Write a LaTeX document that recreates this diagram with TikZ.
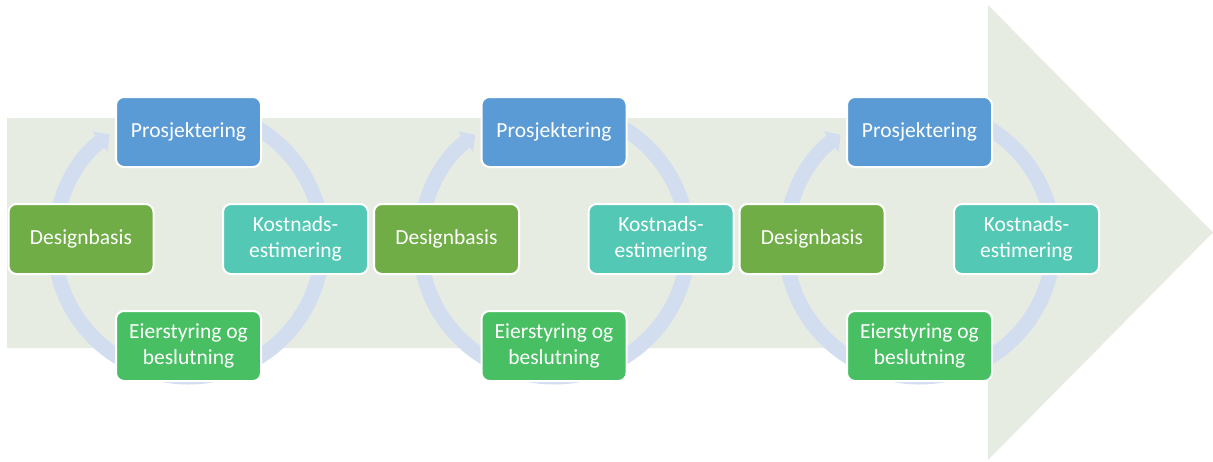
\documentclass[tikz,border=0pt]{standalone}
\usepackage{fontspec}
\setmainfont{Carlito}
\usetikzlibrary{arrows.meta}

\definecolor{bgarrow}{HTML}{E7ECE3}
\definecolor{ringblue}{HTML}{D3DDF0}
\definecolor{phblue}{HTML}{5B9BD5}
\definecolor{phteal}{HTML}{53C9B5}
\definecolor{pholive}{HTML}{70AD47}
\definecolor{phgreen}{HTML}{49BF63}

\begin{document}
\begin{tikzpicture}[x=1pt,y=-1pt,
  phase/.style={rounded corners=8pt, draw=white, line width=2pt,
    minimum width=145pt, minimum height=70pt, inner sep=0pt,
    text=white, align=center, font=\fontsize{21.5}{26}\selectfont},
  cyclering/.style={draw=ringblue, line width=15pt,
    -{Triangle[width=25pt,length=12pt]}}]
\useasboundingbox (0,0) rectangle (1213,461);

% large background arrow pointing right
\fill[bgarrow] (7,118) -- (988,118) -- (988,5) -- (1213,232.5)
  -- (988,460) -- (988,348) -- (7,348) -- cycle;

% three identical iteration cycles
\foreach \i/\ox in {1/0, 2/365.5, 3/731}{
  \begin{scope}[shift={(\ox,0)}]
    \draw[cyclering] (188.5,243) ++(-90:134)
      arc[start angle=-90, end angle=234, radius=134];
    \node[phase, fill=phblue]  (pro\i) at (188.5,132) {Prosjektering};
    \node[phase, fill=phteal]  (kost\i) at (295.5,239) {Kostnads-\\estimering};
    \node[phase, fill=phgreen] (eier\i) at (188.5,346) {Eierstyring og\\beslutning};
    \node[phase, fill=pholive] (des\i) at (81,239) {Designbasis};
  \end{scope}
}
\end{tikzpicture}
\end{document}
